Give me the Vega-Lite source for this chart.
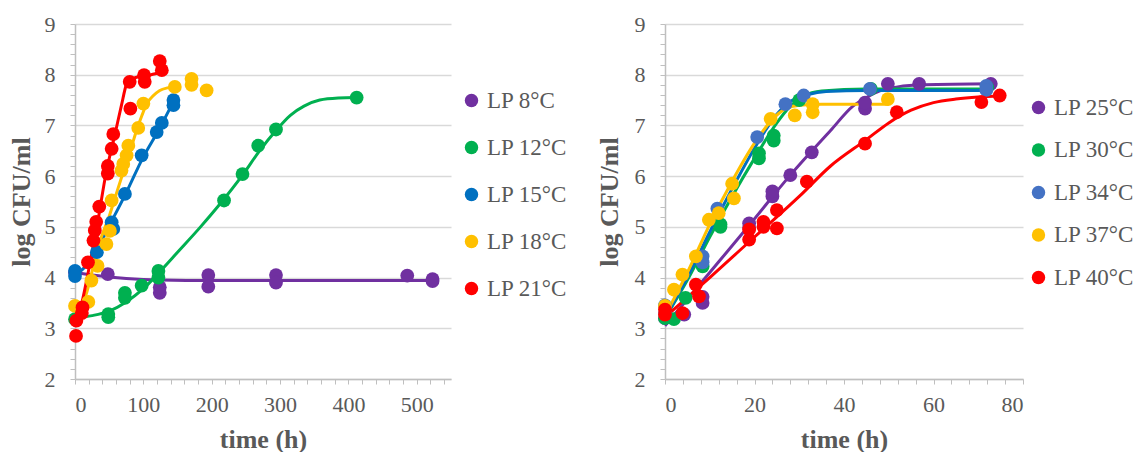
{
  "$schema": "https://vega.github.io/schema/vega-lite/v6.json",
  "padding": {"left": 8, "top": 13, "right": 0, "bottom": 0},
  "config": {
    "view": {"stroke": null},
    "point": {"opacity": 1},
    "axis": {"labelFont": "Liberation Serif", "titleFont": "Liberation Serif", "labelColor": "#595959", "titleColor": "#595959", "labelFontSize": 22, "titleFontSize": 26, "titleFontWeight": "bold"},
    "legend": {"labelFont": "Liberation Serif", "labelColor": "#595959", "labelFontSize": 23}
  },
  "resolve": {"scale": {"color": "independent"}},
  "spacing": 28,
  "hconcat": [
    {
      "width": 376,
      "height": 355,
      "resolve": {"axis": {"x": "independent", "y": "independent"}},
      "layer": [
        {
          "data": {"values": [
            {"series": "LP 8°C", "t": 0, "v": 4.1}, {"series": "LP 8°C", "t": 25, "v": 4.05}, {"series": "LP 8°C", "t": 50, "v": 4.01}, {"series": "LP 8°C", "t": 75, "v": 3.98}, {"series": "LP 8°C", "t": 100, "v": 3.96}, {"series": "LP 8°C", "t": 125, "v": 3.95}, {"series": "LP 8°C", "t": 200, "v": 3.94}, {"series": "LP 8°C", "t": 300, "v": 3.94}, {"series": "LP 8°C", "t": 400, "v": 3.94}, {"series": "LP 8°C", "t": 523, "v": 3.94},
            {"series": "LP 12°C", "t": 0, "v": 3.2}, {"series": "LP 12°C", "t": 25, "v": 3.25}, {"series": "LP 12°C", "t": 50, "v": 3.34}, {"series": "LP 12°C", "t": 75, "v": 3.52}, {"series": "LP 12°C", "t": 100, "v": 3.78}, {"series": "LP 12°C", "t": 125, "v": 4.13}, {"series": "LP 12°C", "t": 150, "v": 4.5}, {"series": "LP 12°C", "t": 183, "v": 4.99}, {"series": "LP 12°C", "t": 212, "v": 5.45}, {"series": "LP 12°C", "t": 245, "v": 6.02}, {"series": "LP 12°C", "t": 270, "v": 6.5}, {"series": "LP 12°C", "t": 294, "v": 6.9}, {"series": "LP 12°C", "t": 315, "v": 7.2}, {"series": "LP 12°C", "t": 335, "v": 7.38}, {"series": "LP 12°C", "t": 358, "v": 7.5}, {"series": "LP 12°C", "t": 385, "v": 7.54}, {"series": "LP 12°C", "t": 412, "v": 7.55},
            {"series": "LP 15°C", "t": 0, "v": 4.08}, {"series": "LP 15°C", "t": 10, "v": 4.15}, {"series": "LP 15°C", "t": 20, "v": 4.3}, {"series": "LP 15°C", "t": 32, "v": 4.55}, {"series": "LP 15°C", "t": 50, "v": 5.02}, {"series": "LP 15°C", "t": 73, "v": 5.62}, {"series": "LP 15°C", "t": 100, "v": 6.38}, {"series": "LP 15°C", "t": 122, "v": 6.9}, {"series": "LP 15°C", "t": 145, "v": 7.5},
            {"series": "LP 18°C", "t": 0, "v": 3.35}, {"series": "LP 18°C", "t": 10, "v": 3.45}, {"series": "LP 18°C", "t": 17, "v": 3.7}, {"series": "LP 18°C", "t": 24, "v": 4.07}, {"series": "LP 18°C", "t": 35, "v": 4.65}, {"series": "LP 18°C", "t": 51, "v": 5.25}, {"series": "LP 18°C", "t": 62, "v": 5.72}, {"series": "LP 18°C", "t": 73, "v": 6.18}, {"series": "LP 18°C", "t": 82, "v": 6.55}, {"series": "LP 18°C", "t": 90, "v": 6.9}, {"series": "LP 18°C", "t": 98, "v": 7.2}, {"series": "LP 18°C", "t": 105, "v": 7.43}, {"series": "LP 18°C", "t": 114, "v": 7.58}, {"series": "LP 18°C", "t": 124, "v": 7.69}, {"series": "LP 18°C", "t": 135, "v": 7.74}, {"series": "LP 18°C", "t": 146, "v": 7.76},
            {"series": "LP 21°C", "t": 0, "v": 3.1}, {"series": "LP 21°C", "t": 5, "v": 3.25}, {"series": "LP 21°C", "t": 10, "v": 3.5}, {"series": "LP 21°C", "t": 20, "v": 4.15}, {"series": "LP 21°C", "t": 32, "v": 5.0}, {"series": "LP 21°C", "t": 46, "v": 6.1}, {"series": "LP 21°C", "t": 58, "v": 6.8}, {"series": "LP 21°C", "t": 68, "v": 7.4}, {"series": "LP 21°C", "t": 75, "v": 7.8}, {"series": "LP 21°C", "t": 80, "v": 7.9}, {"series": "LP 21°C", "t": 90, "v": 7.95}, {"series": "LP 21°C", "t": 105, "v": 7.98}, {"series": "LP 21°C", "t": 120, "v": 8.03}, {"series": "LP 21°C", "t": 130, "v": 8.06}
          ]},
          "mark": {"type": "line", "strokeWidth": 3, "interpolate": "monotone"},
          "encoding": {
            "x": {"field": "t", "type": "quantitative", "scale": {"domain": [0, 550], "nice": false},
                  "axis": {"orient": "bottom", "title": "time (h)", "values": [0, 100, 200, 300, 400, 500], "grid": false, "ticks": false, "domainColor": "#BFBFBF", "domainWidth": 1.5, "labelPadding": 15, "titlePadding": 11}},
            "y": {"field": "v", "type": "quantitative", "scale": {"domain": [2, 9], "nice": false},
                  "axis": {"orient": "left", "title": "log CFU/ml", "values": [2, 3, 4, 5, 6, 7, 8, 9], "grid": true, "gridColor": "#D9D9D9", "gridWidth": 1.5, "ticks": false, "domainColor": "#BFBFBF", "domainWidth": 1.5, "labelPadding": 20, "titlePadding": 10}},
            "stroke": {"field": "series", "type": "nominal", "legend": null,
                      "scale": {"domain": ["LP 8°C", "LP 12°C", "LP 15°C", "LP 18°C", "LP 21°C"], "range": ["#7030A0", "#00B050", "#0070C0", "#FFC000", "#FF0000"]}}
          }
        },
        {
          "data": {"values": [
            {"series": "LP 8°C", "t": 0, "v": 4.1}, {"series": "LP 8°C", "t": 48, "v": 4.07}, {"series": "LP 8°C", "t": 124, "v": 3.81}, {"series": "LP 8°C", "t": 124, "v": 3.7}, {"series": "LP 8°C", "t": 195, "v": 4.05}, {"series": "LP 8°C", "t": 195, "v": 3.82}, {"series": "LP 8°C", "t": 294, "v": 4.05}, {"series": "LP 8°C", "t": 294, "v": 3.9}, {"series": "LP 8°C", "t": 486, "v": 4.04}, {"series": "LP 8°C", "t": 523, "v": 3.97}, {"series": "LP 8°C", "t": 523, "v": 3.93},
            {"series": "LP 12°C", "t": 0, "v": 3.18}, {"series": "LP 12°C", "t": 48.7, "v": 3.28}, {"series": "LP 12°C", "t": 48.7, "v": 3.22}, {"series": "LP 12°C", "t": 73, "v": 3.7}, {"series": "LP 12°C", "t": 73, "v": 3.6}, {"series": "LP 12°C", "t": 97.5, "v": 3.84}, {"series": "LP 12°C", "t": 122, "v": 4.13}, {"series": "LP 12°C", "t": 122, "v": 4.0}, {"series": "LP 12°C", "t": 218, "v": 5.52}, {"series": "LP 12°C", "t": 245, "v": 6.04}, {"series": "LP 12°C", "t": 268, "v": 6.6}, {"series": "LP 12°C", "t": 294, "v": 6.92}, {"series": "LP 12°C", "t": 412, "v": 7.55},
            {"series": "LP 15°C", "t": 0, "v": 4.13}, {"series": "LP 15°C", "t": 0, "v": 4.03}, {"series": "LP 15°C", "t": 32, "v": 4.5}, {"series": "LP 15°C", "t": 53.6, "v": 5.09}, {"series": "LP 15°C", "t": 56, "v": 4.96}, {"series": "LP 15°C", "t": 73, "v": 5.65}, {"series": "LP 15°C", "t": 97.5, "v": 6.41}, {"series": "LP 15°C", "t": 119.5, "v": 6.87}, {"series": "LP 15°C", "t": 127, "v": 7.05}, {"series": "LP 15°C", "t": 144, "v": 7.5}, {"series": "LP 15°C", "t": 144, "v": 7.4},
            {"series": "LP 18°C", "t": 0, "v": 3.44}, {"series": "LP 18°C", "t": 19.5, "v": 3.52}, {"series": "LP 18°C", "t": 24, "v": 3.94}, {"series": "LP 18°C", "t": 33, "v": 4.23}, {"series": "LP 18°C", "t": 46, "v": 4.66}, {"series": "LP 18°C", "t": 51, "v": 4.92}, {"series": "LP 18°C", "t": 53.6, "v": 5.52}, {"series": "LP 18°C", "t": 68, "v": 6.11}, {"series": "LP 18°C", "t": 70.6, "v": 6.24}, {"series": "LP 18°C", "t": 75.5, "v": 6.41}, {"series": "LP 18°C", "t": 78, "v": 6.6}, {"series": "LP 18°C", "t": 92.5, "v": 6.95}, {"series": "LP 18°C", "t": 100, "v": 7.43}, {"series": "LP 18°C", "t": 146, "v": 7.76}, {"series": "LP 18°C", "t": 170.5, "v": 7.92}, {"series": "LP 18°C", "t": 170.5, "v": 7.8}, {"series": "LP 18°C", "t": 192.5, "v": 7.69},
            {"series": "LP 21°C", "t": 1.5, "v": 2.85}, {"series": "LP 21°C", "t": 2, "v": 3.15}, {"series": "LP 21°C", "t": 10, "v": 3.3}, {"series": "LP 21°C", "t": 11, "v": 3.41}, {"series": "LP 21°C", "t": 19, "v": 4.3}, {"series": "LP 21°C", "t": 27, "v": 4.73}, {"series": "LP 21°C", "t": 29, "v": 4.93}, {"series": "LP 21°C", "t": 31, "v": 5.1}, {"series": "LP 21°C", "t": 35.5, "v": 5.4}, {"series": "LP 21°C", "t": 48, "v": 6.2}, {"series": "LP 21°C", "t": 48, "v": 6.05}, {"series": "LP 21°C", "t": 53.6, "v": 6.54}, {"series": "LP 21°C", "t": 56, "v": 6.83}, {"series": "LP 21°C", "t": 80, "v": 7.86}, {"series": "LP 21°C", "t": 81, "v": 7.33}, {"series": "LP 21°C", "t": 101, "v": 7.99}, {"series": "LP 21°C", "t": 102, "v": 7.86}, {"series": "LP 21°C", "t": 124, "v": 8.27}, {"series": "LP 21°C", "t": 127, "v": 8.09}
          ]},
          "mark": {"type": "point", "filled": true, "size": 190},
          "encoding": {
            "x": {"field": "t", "type": "quantitative", "scale": {"domain": [0, 550], "nice": false},
                  "axis": {"orient": "bottom", "title": null, "labels": false, "domain": false, "grid": false, "ticks": true, "tickSize": 5, "tickColor": "#BFBFBF", "tickWidth": 1,
                           "values": [0, 20, 40, 60, 80, 100, 120, 140, 160, 180, 200, 220, 240, 260, 280, 300, 320, 340, 360, 380, 400, 420, 440, 460, 480, 500, 520, 540]}},
            "y": {"field": "v", "type": "quantitative", "scale": {"domain": [2, 9], "nice": false},
                  "axis": {"orient": "left", "title": null, "labels": false, "domain": false, "grid": false, "ticks": true, "tickSize": 5, "tickColor": "#BFBFBF", "tickWidth": 1,
                           "values": [2, 2.2, 2.4, 2.6, 2.8, 3, 3.2, 3.4, 3.6, 3.8, 4, 4.2, 4.4, 4.6, 4.8, 5, 5.2, 5.4, 5.6, 5.8, 6, 6.2, 6.4, 6.6, 6.8, 7, 7.2, 7.4, 7.6, 7.8, 8, 8.2, 8.4, 8.6, 8.8, 9]}},
            "color": {"field": "series", "type": "nominal",
                      "scale": {"domain": ["LP 8°C", "LP 12°C", "LP 15°C", "LP 18°C", "LP 21°C"], "range": ["#7030A0", "#00B050", "#0070C0", "#FFC000", "#FF0000"]},
                      "legend": {"title": null, "orient": "none", "legendX": 385, "legendY": 65, "symbolType": "circle", "symbolSize": 180, "symbolStrokeWidth": 0, "symbolOpacity": 1, "rowPadding": 23, "labelOffset": 4, "padding": 0}}
          }
        }
      ]
    },
    {
      "width": 358,
      "height": 355,
      "resolve": {"axis": {"x": "independent", "y": "independent"}},
      "layer": [
        {
          "data": {"values": [
            {"series": "LP 25°C", "t": 0, "v": 3.05}, {"series": "LP 25°C", "t": 10, "v": 4.1}, {"series": "LP 25°C", "t": 19, "v": 5.05}, {"series": "LP 25°C", "t": 28, "v": 6.02}, {"series": "LP 25°C", "t": 37, "v": 6.9}, {"series": "LP 25°C", "t": 42, "v": 7.38}, {"series": "LP 25°C", "t": 45, "v": 7.55}, {"series": "LP 25°C", "t": 48, "v": 7.68}, {"series": "LP 25°C", "t": 52, "v": 7.76}, {"series": "LP 25°C", "t": 58, "v": 7.8}, {"series": "LP 25°C", "t": 73, "v": 7.82},
            {"series": "LP 30°C", "t": 0, "v": 3.2}, {"series": "LP 30°C", "t": 5, "v": 3.95}, {"series": "LP 30°C", "t": 10, "v": 4.8}, {"series": "LP 30°C", "t": 15, "v": 5.6}, {"series": "LP 30°C", "t": 20, "v": 6.35}, {"series": "LP 30°C", "t": 25, "v": 7.05}, {"series": "LP 30°C", "t": 28, "v": 7.38}, {"series": "LP 30°C", "t": 31, "v": 7.58}, {"series": "LP 30°C", "t": 35, "v": 7.68}, {"series": "LP 30°C", "t": 45, "v": 7.72}, {"series": "LP 30°C", "t": 72, "v": 7.72},
            {"series": "LP 34°C", "t": 0, "v": 3.2}, {"series": "LP 34°C", "t": 5, "v": 4.0}, {"series": "LP 34°C", "t": 10, "v": 4.9}, {"series": "LP 34°C", "t": 15, "v": 5.75}, {"series": "LP 34°C", "t": 20, "v": 6.55}, {"series": "LP 34°C", "t": 25, "v": 7.22}, {"series": "LP 34°C", "t": 28, "v": 7.47}, {"series": "LP 34°C", "t": 32, "v": 7.61}, {"series": "LP 34°C", "t": 36, "v": 7.67}, {"series": "LP 34°C", "t": 45, "v": 7.69}, {"series": "LP 34°C", "t": 72, "v": 7.69},
            {"series": "LP 37°C", "t": 0, "v": 3.25}, {"series": "LP 37°C", "t": 5, "v": 4.1}, {"series": "LP 37°C", "t": 10, "v": 5.05}, {"series": "LP 37°C", "t": 15, "v": 5.9}, {"series": "LP 37°C", "t": 20, "v": 6.65}, {"series": "LP 37°C", "t": 24, "v": 7.12}, {"series": "LP 37°C", "t": 27, "v": 7.33}, {"series": "LP 37°C", "t": 30, "v": 7.4}, {"series": "LP 37°C", "t": 35, "v": 7.42}, {"series": "LP 37°C", "t": 50, "v": 7.42},
            {"series": "LP 40°C", "t": 0, "v": 3.22}, {"series": "LP 40°C", "t": 10, "v": 4.0}, {"series": "LP 40°C", "t": 20, "v": 4.8}, {"series": "LP 40°C", "t": 30, "v": 5.6}, {"series": "LP 40°C", "t": 37, "v": 6.2}, {"series": "LP 40°C", "t": 45, "v": 6.72}, {"series": "LP 40°C", "t": 50, "v": 7.05}, {"series": "LP 40°C", "t": 55, "v": 7.3}, {"series": "LP 40°C", "t": 60, "v": 7.45}, {"series": "LP 40°C", "t": 65, "v": 7.52}, {"series": "LP 40°C", "t": 70, "v": 7.56}, {"series": "LP 40°C", "t": 75, "v": 7.58}
          ]},
          "mark": {"type": "line", "strokeWidth": 3, "interpolate": "monotone"},
          "encoding": {
            "x": {"field": "t", "type": "quantitative", "scale": {"domain": [0, 80], "nice": false},
                  "axis": {"orient": "bottom", "title": "time (h)", "values": [0, 20, 40, 60, 80], "grid": false, "ticks": false, "domainColor": "#BFBFBF", "domainWidth": 1.5, "labelPadding": 15, "titlePadding": 11}},
            "y": {"field": "v", "type": "quantitative", "scale": {"domain": [2, 9], "nice": false},
                  "axis": {"orient": "left", "title": "log CFU/ml", "values": [2, 3, 4, 5, 6, 7, 8, 9], "grid": true, "gridColor": "#D9D9D9", "gridWidth": 1.5, "ticks": false, "domainColor": "#BFBFBF", "domainWidth": 1.5, "labelPadding": 20, "titlePadding": 12}},
            "stroke": {"field": "series", "type": "nominal", "legend": null,
                      "scale": {"domain": ["LP 25°C", "LP 30°C", "LP 34°C", "LP 37°C", "LP 40°C"], "range": ["#7030A0", "#00B050", "#4472C4", "#FFC000", "#FF0000"]}}
          }
        },
        {
          "data": {"values": [
            {"series": "LP 25°C", "t": 0, "v": 3.2}, {"series": "LP 25°C", "t": 4.3, "v": 3.27}, {"series": "LP 25°C", "t": 8.4, "v": 3.5}, {"series": "LP 25°C", "t": 8.4, "v": 3.62}, {"series": "LP 25°C", "t": 18.8, "v": 5.07}, {"series": "LP 25°C", "t": 18.8, "v": 4.98}, {"series": "LP 25°C", "t": 24, "v": 5.6}, {"series": "LP 25°C", "t": 24, "v": 5.7}, {"series": "LP 25°C", "t": 28, "v": 6.02}, {"series": "LP 25°C", "t": 32.8, "v": 6.47}, {"series": "LP 25°C", "t": 44.7, "v": 7.33}, {"series": "LP 25°C", "t": 44.7, "v": 7.45}, {"series": "LP 25°C", "t": 49.8, "v": 7.82}, {"series": "LP 25°C", "t": 56.8, "v": 7.82}, {"series": "LP 25°C", "t": 72.8, "v": 7.82},
            {"series": "LP 30°C", "t": 0, "v": 3.2}, {"series": "LP 30°C", "t": 2, "v": 3.18}, {"series": "LP 30°C", "t": 4.6, "v": 3.6}, {"series": "LP 30°C", "t": 8.4, "v": 4.22}, {"series": "LP 30°C", "t": 12.4, "v": 5.0}, {"series": "LP 30°C", "t": 12.4, "v": 5.05}, {"series": "LP 30°C", "t": 21, "v": 6.35}, {"series": "LP 30°C", "t": 21, "v": 6.45}, {"series": "LP 30°C", "t": 24.3, "v": 6.7}, {"series": "LP 30°C", "t": 24.3, "v": 6.8}, {"series": "LP 30°C", "t": 30, "v": 7.5}, {"series": "LP 30°C", "t": 46, "v": 7.72}, {"series": "LP 30°C", "t": 72, "v": 7.75},
            {"series": "LP 34°C", "t": 0, "v": 3.45}, {"series": "LP 34°C", "t": 0, "v": 3.3}, {"series": "LP 34°C", "t": 8.4, "v": 4.42}, {"series": "LP 34°C", "t": 8.4, "v": 4.3}, {"series": "LP 34°C", "t": 11.7, "v": 5.36}, {"series": "LP 34°C", "t": 20.6, "v": 6.77}, {"series": "LP 34°C", "t": 26.9, "v": 7.42}, {"series": "LP 34°C", "t": 31, "v": 7.59}, {"series": "LP 34°C", "t": 45.8, "v": 7.72}, {"series": "LP 34°C", "t": 71.8, "v": 7.78}, {"series": "LP 34°C", "t": 71.8, "v": 7.7},
            {"series": "LP 37°C", "t": 0, "v": 3.44}, {"series": "LP 37°C", "t": 2, "v": 3.76}, {"series": "LP 37°C", "t": 3.9, "v": 4.06}, {"series": "LP 37°C", "t": 6.9, "v": 4.42}, {"series": "LP 37°C", "t": 9.8, "v": 5.14}, {"series": "LP 37°C", "t": 12, "v": 5.27}, {"series": "LP 37°C", "t": 15, "v": 5.85}, {"series": "LP 37°C", "t": 15.4, "v": 5.56}, {"series": "LP 37°C", "t": 23.6, "v": 7.13}, {"series": "LP 37°C", "t": 29, "v": 7.2}, {"series": "LP 37°C", "t": 33, "v": 7.26}, {"series": "LP 37°C", "t": 33, "v": 7.42}, {"series": "LP 37°C", "t": 49.8, "v": 7.52},
            {"series": "LP 40°C", "t": 0, "v": 3.37}, {"series": "LP 40°C", "t": 0, "v": 3.27}, {"series": "LP 40°C", "t": 3.9, "v": 3.3}, {"series": "LP 40°C", "t": 6.9, "v": 3.86}, {"series": "LP 40°C", "t": 7.6, "v": 3.63}, {"series": "LP 40°C", "t": 18.8, "v": 4.75}, {"series": "LP 40°C", "t": 18.8, "v": 4.95}, {"series": "LP 40°C", "t": 22, "v": 5.1}, {"series": "LP 40°C", "t": 22, "v": 5.0}, {"series": "LP 40°C", "t": 25, "v": 5.33}, {"series": "LP 40°C", "t": 25, "v": 4.97}, {"series": "LP 40°C", "t": 31.7, "v": 5.89}, {"series": "LP 40°C", "t": 44.7, "v": 6.64}, {"series": "LP 40°C", "t": 51.8, "v": 7.26}, {"series": "LP 40°C", "t": 70.7, "v": 7.46}, {"series": "LP 40°C", "t": 74.8, "v": 7.59}
          ]},
          "mark": {"type": "point", "filled": true, "size": 190},
          "encoding": {
            "x": {"field": "t", "type": "quantitative", "scale": {"domain": [0, 80], "nice": false},
                  "axis": {"orient": "bottom", "title": null, "labels": false, "domain": false, "grid": false, "ticks": true, "tickSize": 5, "tickColor": "#BFBFBF", "tickWidth": 1,
                           "values": [0, 4, 8, 12, 16, 20, 24, 28, 32, 36, 40, 44, 48, 52, 56, 60, 64, 68, 72, 76, 80]}},
            "y": {"field": "v", "type": "quantitative", "scale": {"domain": [2, 9], "nice": false},
                  "axis": {"orient": "left", "title": null, "labels": false, "domain": false, "grid": false, "ticks": true, "tickSize": 5, "tickColor": "#BFBFBF", "tickWidth": 1,
                           "values": [2, 2.2, 2.4, 2.6, 2.8, 3, 3.2, 3.4, 3.6, 3.8, 4, 4.2, 4.4, 4.6, 4.8, 5, 5.2, 5.4, 5.6, 5.8, 6, 6.2, 6.4, 6.6, 6.8, 7, 7.2, 7.4, 7.6, 7.8, 8, 8.2, 8.4, 8.6, 8.8, 9]}},
            "color": {"field": "series", "type": "nominal",
                      "scale": {"domain": ["LP 25°C", "LP 30°C", "LP 34°C", "LP 37°C", "LP 40°C"], "range": ["#7030A0", "#00B050", "#4472C4", "#FFC000", "#FF0000"]},
                      "legend": {"title": null, "orient": "none", "legendX": 362, "legendY": 72, "symbolType": "circle", "symbolSize": 180, "symbolStrokeWidth": 0, "symbolOpacity": 1, "rowPadding": 18.5, "labelOffset": 4, "padding": 0}}
          }
        }
      ]
    }
  ]
}
